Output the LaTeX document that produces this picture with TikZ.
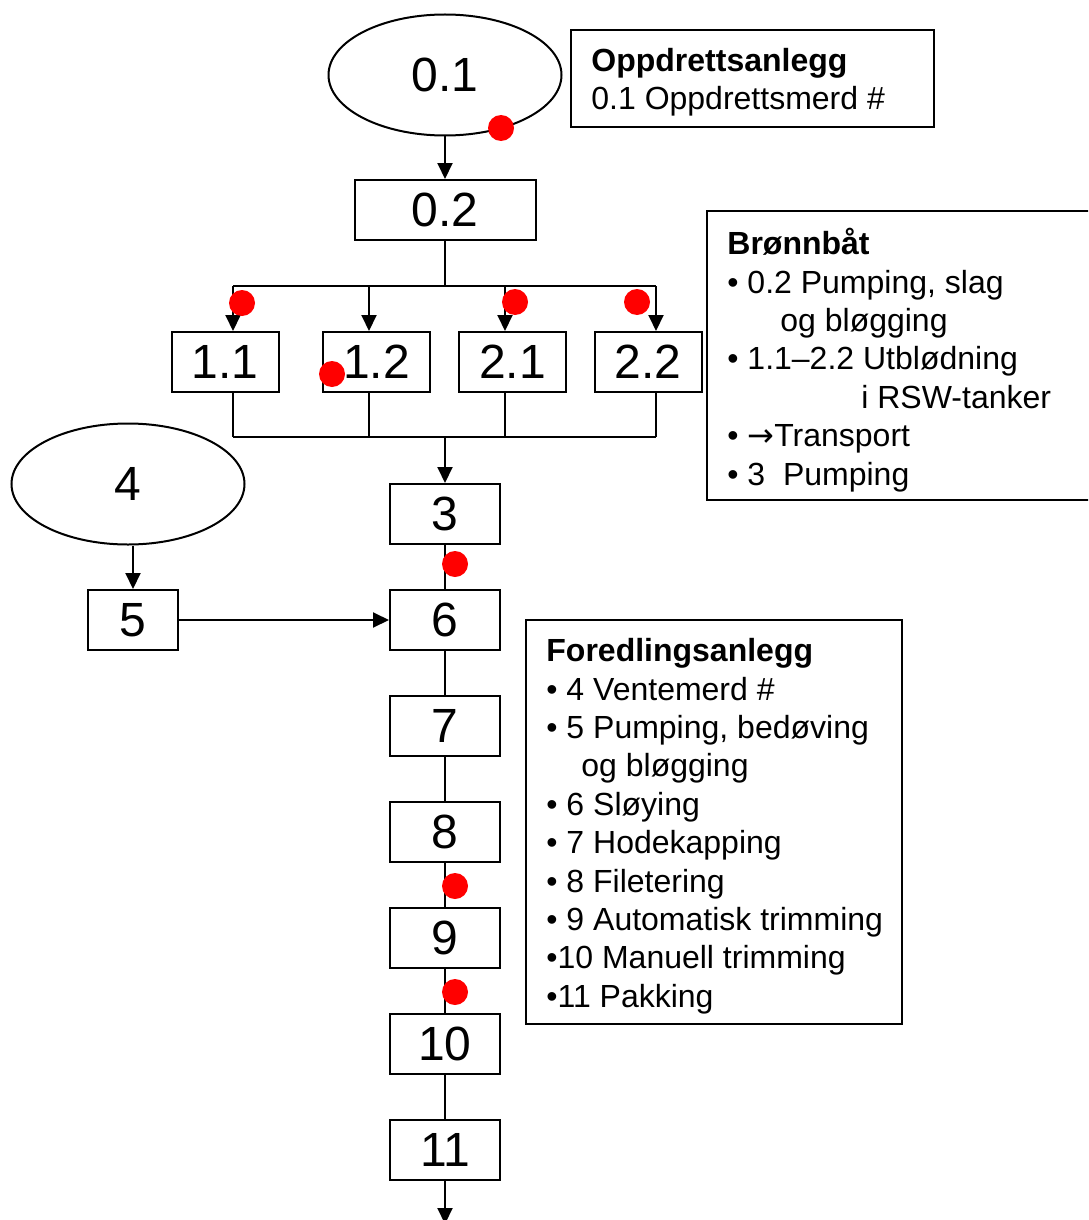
\documentclass[tikz,border=0pt]{standalone}
\usepackage{fontspec}
\setmainfont{Liberation Sans}
\newfontfamily\arrowfont{DejaVu Sans}
\usetikzlibrary{arrows.meta,shapes.geometric}

\begin{document}
\begin{tikzpicture}[x=0.5pt,y=-0.5pt,
    stepbox/.style={draw,line width=1pt,minimum width=55pt,minimum height=30pt,inner sep=0pt,font=\fontsize{24}{28}\selectfont},
    merd/.style={draw,ellipse,line width=1pt,minimum width=116.5pt,minimum height=60.5pt,inner sep=0pt,font=\fontsize{24}{28}\selectfont},
    legbox/.style={draw,line width=1pt,inner sep=0pt},
    legtext/.style={anchor=north west,align=left,inner sep=0pt,font=\fontsize{16}{19.2}\selectfont},
    flow/.style={line width=1pt},
    arr/.style={flow,-{Triangle[length=8pt,width=7.5pt]}},
    dot/.style={circle,fill=red,minimum size=13pt,inner sep=0pt}]

    % Picture size
    \useasboundingbox (0,0) rectangle (1088,1220);
    \clip (0,0) rectangle (1088,1220);

    % Net pens
    \node[merd] (merd01) at (445,75) {0.1};
    \node[merd] (merd4) at (128,484) {4};

    % Steps
    \node[stepbox,minimum width=90.5pt] (n02) at (445,210) {0.2};
    \node[stepbox,minimum width=53.5pt] (t11) at (225,362) {1.1};
    \node[stepbox,minimum width=53.5pt] (t12) at (376.5,362) {1.2};
    \node[stepbox,minimum width=53.5pt] (t21) at (512.5,362) {2.1};
    \node[stepbox,minimum width=53.5pt] (t22) at (648,362) {2.2};
    \node[stepbox] (n3) at (445,514) {3};
    \node[stepbox,minimum width=45pt] (n5) at (133,620) {5};
    \node[stepbox] (n6) at (445,620) {6};
    \node[stepbox] (n7) at (445,726) {7};
    \node[stepbox] (n8) at (445,832) {8};
    \node[stepbox] (n9) at (445,938) {9};
    \node[stepbox] (n10) at (445,1044) {10};
    \node[stepbox] (n11) at (445,1150) {11};

    % Split and join points
    \coordinate (split) at (445,286);
    \coordinate (join) at (445,437);
    \coordinate (a11) at (233,286);
    \coordinate (a12) at (369,286);
    \coordinate (a21) at (505,286);
    \coordinate (a22) at (656,286);
    \coordinate (out) at (445,1224);

    % Connectors
    \draw[arr] (merd01) -- (n02);
    \draw[flow] (n02.south) -- (split);
    \draw[flow] (a11) -- (a22);
    \foreach \t/\a in {t11/a11,t12/a12,t21/a21,t22/a22} {
        \draw[arr] (\a) -- (\a |- \t.north);
        \draw[flow] (\a |- \t.south) -- (\a |- join);
    }
    \draw[flow] (a11 |- join) -- (a22 |- join);
    \draw[arr] (join) -- (n3);
    \foreach \a/\b in {n3/n6,n6/n7,n7/n8,n8/n9,n9/n10,n10/n11}
        \draw[flow] (\a) -- (\b);
    \draw[arr] (n11) -- (out);
    \draw[arr] (n5 |- merd4.south) -- (n5);
    \draw[arr] (n5) -- (n6);

    % Legends
    \node[legbox,minimum width=181.5pt,minimum height=48.5pt] (leg1) at (752.5,78.5) {};
    \node[legtext] (leg1txt) at ([shift={(21,19)}]leg1.north west)
        {\textbf{Oppdrettsanlegg}\\0.1 Oppdrettsmerd \#};

    \node[legbox,minimum width=192.5pt,minimum height=144.5pt] (leg2) at (899.5,355.5) {};
    \node[legtext] (leg2txt) at ([shift={(21,18)}]leg2.north west)
        {\textbf{Brønnbåt}\\
         • 0.2 Pumping, slag\\
         \hspace*{26.5pt}og bløgging\\
         • 1.1–2.2 Utblødning\\
         \hspace*{67pt}i RSW-tanker\\
         • {\arrowfont →}Transport\\
         • 3\ \ Pumping};

    \node[legbox,minimum width=188pt,minimum height=202pt] (leg3) at (714,822) {};
    \node[legtext] (leg3txt) at ([shift={(21,19)}]leg3.north west)
        {\textbf{Foredlingsanlegg}\\
         • 4 Ventemerd \#\\
         • 5 Pumping, bedøving\\
         \hspace*{17.5pt}og bløgging\\
         • 6 Sløying\\
         • 7 Hodekapping\\
         • 8 Filetering\\
         • 9 Automatisk trimming\\
         •10 Manuell trimming\\
         •11 Pakking};

    % Red marks
    \node[dot] (m1) at (501,128) {};
    \node[dot] (m2) at (242,303) {};
    \node[dot] (m3) at (515,302) {};
    \node[dot] (m4) at (637,302) {};
    \node[dot] (m5) at (332,374) {};
    \node[dot] (m6) at (455,564) {};
    \node[dot] (m7) at (455,886) {};
    \node[dot] (m8) at (455,992) {};

\end{tikzpicture}
\end{document}
